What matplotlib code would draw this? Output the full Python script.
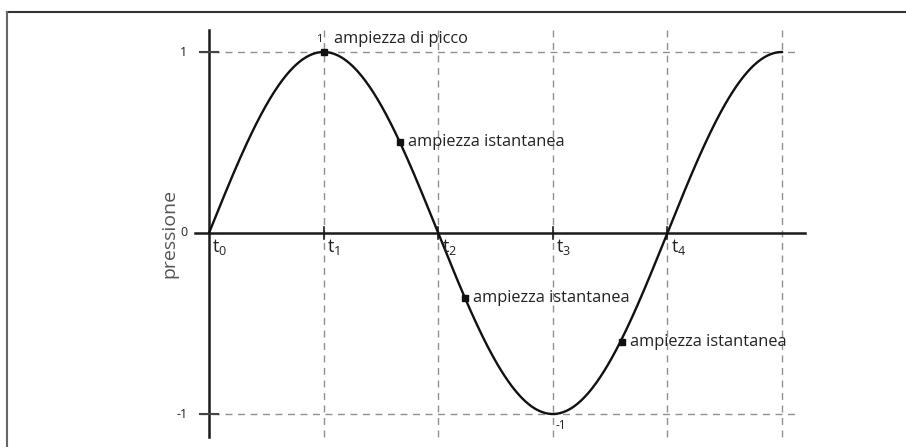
import matplotlib
matplotlib.use('Agg')
import numpy as np
import matplotlib.pyplot as plt
from matplotlib.lines import Line2D

plt.rcParams['font.family'] = ['Open Sans', 'DejaVu Sans']
plt.rcParams['mathtext.default'] = 'regular'

# tempo in quarti di periodo
t_marks = [0, 1, 2, 3, 4]
t_names = ['$t_0$', '$t_1$', '$t_2$', '$t_3$', '$t_4$']
t_grid = [1, 2, 3, 4, 5]
y_ticks = [1, 0, -1]
y_names = ['1', '0', '-1']

# punti di ampiezza istantanea (tempo, pressione)
punti_t = [1.0, 1.667, 2.234, 3.6]
punti_p = [1.0, 0.5, -0.36, -0.6]
punti_txt = ['ampiezza di picco', 'ampiezza istantanea', 'ampiezza istantanea', 'ampiezza istantanea']

t = np.linspace(0, 5, 600)
p = np.sin(np.pi / 2 * t)

fig = plt.figure(figsize=(9.06, 4.47), dpi=100)
ax = fig.add_axes([0, 0, 1, 1])
ax.set_xlim(-209 / 114.6, (906 - 209) / 114.6)
ax.set_ylim(-(447 - 233) / 181, 233 / 181)
ax.axis('off')

# cornice
fig.add_artist(Line2D([7 / 906, 1], [1 - 12 / 447] * 2, color='#333333', lw=1.5))
fig.add_artist(Line2D([7 / 906] * 2, [0, 1 - 12 / 447], color='#666666', lw=1.5))

grigio = '#909090'
for tg in t_grid:
    ax.plot([tg, tg], [1.12, -1.127], color=grigio, lw=1, dashes=(5, 4))
ax.plot([-0.08, 5.11], [1, 1], color=grigio, lw=1, dashes=(5, 4))
ax.plot([-0.08, 5.15], [-1, -1], color=grigio, lw=1, dashes=(5, 4))

# assi
ax.plot([0, 0], [1.12, -1.127], color='#1a1a1a', lw=1.8)
ax.plot([-0.12, 5.2], [0, 0], color='#1a1a1a', lw=1.8)
for tm in t_marks[1:]:
    ax.plot([tm, tm], [0.035, -0.035], color='#1a1a1a', lw=1.2)
for yt in [1, -1]:
    ax.plot([-0.08, 0.08], [yt, yt], color='#444444', lw=1.5)

for yt, yn in zip(y_ticks, y_names):
    ax.text(-0.19, yt, yn, ha='right', va='center', fontsize=9, color='#222222')
for tm, tn in zip(t_marks, t_names):
    ax.text(tm + 0.03, -0.02, tn, ha='left', va='top', fontsize=13, color='#222222')

ax.text(-0.27, 0, 'pressione', rotation=90, ha='right', va='center', fontsize=14, color='#555555')

# onda di pressione
ax.plot(t, p, color='#111111', lw=1.7)

ax.plot(punti_t, punti_p, 's', color='#111111', ms=4.5)
for i in range(len(punti_t)):
    if i == 0:
        ax.text(punti_t[i] + 0.09, punti_p[i] + 0.03, punti_txt[i], ha='left', va='bottom', fontsize=11.8, color='#222222')
    else:
        ax.text(punti_t[i] + 0.07, punti_p[i], punti_txt[i], ha='left', va='center', fontsize=11.8, color='#222222')

ax.text(0.93, 1.04, '1', ha='left', va='bottom', fontsize=8, color='#222222')
ax.text(3.02, -1.03, '-1', ha='left', va='top', fontsize=8.5, color='#222222')

fig.savefig('out.png', dpi=100)
